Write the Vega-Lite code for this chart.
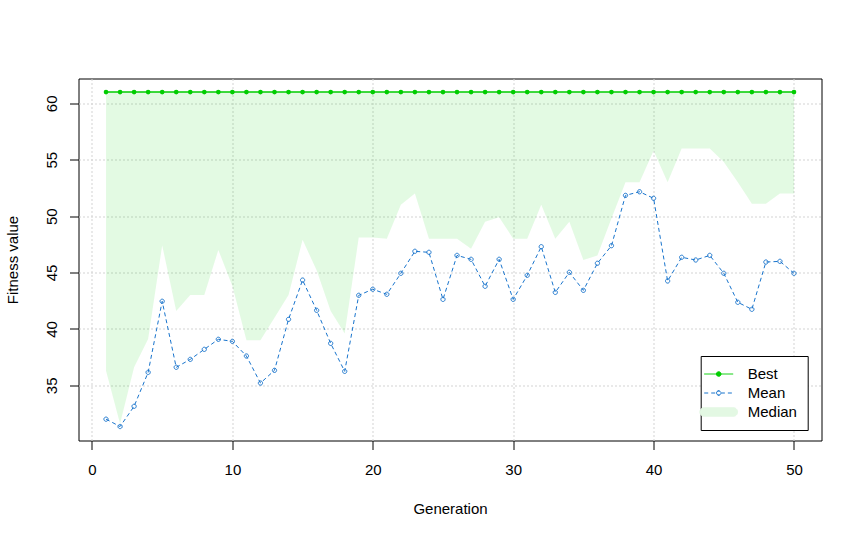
{
  "$schema": "https://vega.github.io/schema/vega-lite/v6.json",
  "width": 743,
  "height": 362,
  "autosize": {"type": "none"},
  "padding": {"left": 78.5, "top": 78.5, "right": 40.5, "bottom": 97.5},
  "background": "white",
  "config": {
    "view": {"stroke": "black", "strokeWidth": 1},
    "font": "Liberation Sans",
    "axis": {
      "grid": true, "gridColor": "#d3d3d3", "gridDash": [2, 2], "gridWidth": 1,
      "domain": false, "tickColor": "black", "tickSize": 9, "tickWidth": 1,
      "labelColor": "black", "labelFontSize": 15, "labelFont": "Liberation Sans",
      "titleFont": "Liberation Sans", "titleFontSize": 15, "titleColor": "black", "titleFontWeight": "normal",
      "labelFlush": false, "labelOverlap": false
    }
  },
  "data": {"values": [
    {"gen": 1, "best": 61, "mean": 32.0, "median": 36.3},
    {"gen": 2, "best": 61, "mean": 31.35, "median": 31.6},
    {"gen": 3, "best": 61, "mean": 33.14, "median": 36.6},
    {"gen": 4, "best": 61, "mean": 36.15, "median": 39.1},
    {"gen": 5, "best": 61, "mean": 42.45, "median": 47.4},
    {"gen": 6, "best": 61, "mean": 36.6, "median": 41.6},
    {"gen": 7, "best": 61, "mean": 37.3, "median": 43.0},
    {"gen": 8, "best": 61, "mean": 38.19, "median": 43.0},
    {"gen": 9, "best": 61, "mean": 39.08, "median": 47.0},
    {"gen": 10, "best": 61, "mean": 38.9, "median": 43.8},
    {"gen": 11, "best": 61, "mean": 37.6, "median": 39.0},
    {"gen": 12, "best": 61, "mean": 35.2, "median": 39.0},
    {"gen": 13, "best": 61, "mean": 36.33, "median": 41.0},
    {"gen": 14, "best": 61, "mean": 40.85, "median": 43.0},
    {"gen": 15, "best": 61, "mean": 44.33, "median": 47.9},
    {"gen": 16, "best": 61, "mean": 41.65, "median": 45.2},
    {"gen": 17, "best": 61, "mean": 38.72, "median": 41.6},
    {"gen": 18, "best": 61, "mean": 36.24, "median": 39.6},
    {"gen": 19, "best": 61, "mean": 42.98, "median": 48.1},
    {"gen": 20, "best": 61, "mean": 43.52, "median": 48.1},
    {"gen": 21, "best": 61, "mean": 43.07, "median": 48.0},
    {"gen": 22, "best": 61, "mean": 44.93, "median": 51.0},
    {"gen": 23, "best": 61, "mean": 46.88, "median": 52.0},
    {"gen": 24, "best": 61, "mean": 46.79, "median": 48.0},
    {"gen": 25, "best": 61, "mean": 42.62, "median": 48.0},
    {"gen": 26, "best": 61, "mean": 46.52, "median": 48.0},
    {"gen": 27, "best": 61, "mean": 46.17, "median": 47.1},
    {"gen": 28, "best": 61, "mean": 43.78, "median": 49.5},
    {"gen": 29, "best": 61, "mean": 46.17, "median": 49.9},
    {"gen": 30, "best": 61, "mean": 42.62, "median": 48.0},
    {"gen": 31, "best": 61, "mean": 44.75, "median": 48.0},
    {"gen": 32, "best": 61, "mean": 47.29, "median": 51.0},
    {"gen": 33, "best": 61, "mean": 43.24, "median": 48.0},
    {"gen": 34, "best": 61, "mean": 45.02, "median": 49.5},
    {"gen": 35, "best": 61, "mean": 43.42, "median": 46.1},
    {"gen": 36, "best": 61, "mean": 45.82, "median": 46.5},
    {"gen": 37, "best": 61, "mean": 47.38, "median": 49.8},
    {"gen": 38, "best": 61, "mean": 51.84, "median": 53.0},
    {"gen": 39, "best": 61, "mean": 52.16, "median": 53.0},
    {"gen": 40, "best": 61, "mean": 51.58, "median": 55.8},
    {"gen": 41, "best": 61, "mean": 44.25, "median": 53.0},
    {"gen": 42, "best": 61, "mean": 46.35, "median": 56.0},
    {"gen": 43, "best": 61, "mean": 46.11, "median": 56.0},
    {"gen": 44, "best": 61, "mean": 46.52, "median": 56.0},
    {"gen": 45, "best": 61, "mean": 44.93, "median": 54.8},
    {"gen": 46, "best": 61, "mean": 42.36, "median": 53.0},
    {"gen": 47, "best": 61, "mean": 41.74, "median": 51.1},
    {"gen": 48, "best": 61, "mean": 45.93, "median": 51.1},
    {"gen": 49, "best": 61, "mean": 45.99, "median": 52.0},
    {"gen": 50, "best": 61, "mean": 44.93, "median": 52.0}
  ]},
  "layer": [
    {
      "mark": {"type": "area", "fill": "#00cd00", "opacity": 0.11},
      "encoding": {
        "x": {
          "field": "gen", "type": "quantitative",
          "scale": {"domain": [-0.96, 51.96], "nice": false, "zero": false},
          "axis": {
            "values": [0, 10, 20, 30, 40, 50], "format": "d", "title": "Generation",
            "labelPadding": 20, "labelBaseline": "middle",
            "titleY": 68, "titleBaseline": "middle"
          }
        },
        "y": {
          "field": "median", "type": "quantitative",
          "scale": {"domain": [30.11, 62.2], "nice": false, "zero": false},
          "axis": {
            "values": [35, 40, 45, 50, 55, 60], "format": "d", "title": "Fitness value",
            "labelAngle": -90, "labelAlign": "center", "labelBaseline": "middle", "labelPadding": 18,
            "titleX": -66, "titleY": 181, "titleAngle": -90, "titleAlign": "center", "titleBaseline": "middle"
          }
        },
        "y2": {"field": "best"}
      }
    },
    {
      "mark": {"type": "line", "strokeWidth": 1.5, "point": {"filled": true, "size": 22}},
      "encoding": {
        "x": {"field": "gen", "type": "quantitative"},
        "y": {"field": "best", "type": "quantitative"},
        "color": {
          "datum": "Best", "type": "nominal",
          "scale": {"domain": ["Best", "Mean", "Median"], "range": ["#00cd00", "#1874cd", "#e3f8e3"]},
          "legend": {
            "orient": "none", "legendX": 622.2, "legendY": 277.5, "title": null, "direction": "vertical",
            "strokeColor": "black", "fillColor": "white", "padding": 10, "cornerRadius": 0,
            "symbolType": "M-2,0H2", "symbolSize": 210, "symbolStrokeWidth": 1,
            "labelFontSize": 15, "labelColor": "black", "labelOffset": 21, "rowPadding": 3,
            "encode": {
              "symbols": {"update": {
                "shape": {"signal": "datum.value === 'Median' ? 'M-2,-0.6H2A0.6,0.6,0,0,1,2,0.6H-2A0.6,0.6,0,0,1,-2,-0.6Z' : datum.value === 'Mean' ? 'M-2,0H-0.3M0.3,0H2M-0.3,0A0.3,0.3,0,1,1,0.3,0A0.3,0.3,0,1,1,-0.3,0ZM-0.29,0A0.29,0.29,0,1,0,0.29,0A0.29,0.29,0,1,0,-0.29,0Z' : 'M-2,0H2M-0.32,0A0.32,0.32,0,1,1,0.32,0A0.32,0.32,0,1,1,-0.32,0Z'"},
                "strokeWidth": {"signal": "1"},
                "strokeDash": {"signal": "datum.value === 'Mean' ? [4, 3] : [1, 0]"},
                "opacity": {"value": 1}
              }}
            }
          }
        }
      }
    },
    {
      "mark": {"type": "line", "strokeWidth": 1, "strokeDash": [4, 3], "point": {"filled": false, "size": 18, "strokeWidth": 1, "strokeDash": [1, 0]}},
      "encoding": {
        "x": {"field": "gen", "type": "quantitative"},
        "y": {"field": "mean", "type": "quantitative"},
        "color": {
          "datum": "Mean", "type": "nominal",
          "legend": {
            "orient": "none", "legendX": 622.2, "legendY": 277.5, "title": null, "direction": "vertical",
            "strokeColor": "black", "fillColor": "white", "padding": 10, "cornerRadius": 0,
            "symbolType": "M-2,0H2", "symbolSize": 210, "symbolStrokeWidth": 1,
            "labelFontSize": 15, "labelColor": "black", "labelOffset": 21, "rowPadding": 3,
            "encode": {
              "symbols": {"update": {
                "shape": {"signal": "datum.value === 'Median' ? 'M-2,-0.6H2A0.6,0.6,0,0,1,2,0.6H-2A0.6,0.6,0,0,1,-2,-0.6Z' : datum.value === 'Mean' ? 'M-2,0H-0.3M0.3,0H2M-0.3,0A0.3,0.3,0,1,1,0.3,0A0.3,0.3,0,1,1,-0.3,0ZM-0.29,0A0.29,0.29,0,1,0,0.29,0A0.29,0.29,0,1,0,-0.29,0Z' : 'M-2,0H2M-0.32,0A0.32,0.32,0,1,1,0.32,0A0.32,0.32,0,1,1,-0.32,0Z'"},
                "strokeWidth": {"signal": "1"},
                "strokeDash": {"signal": "datum.value === 'Mean' ? [4, 3] : [1, 0]"},
                "opacity": {"value": 1}
              }}
            }
          }
        }
      }
    }
  ]
}
